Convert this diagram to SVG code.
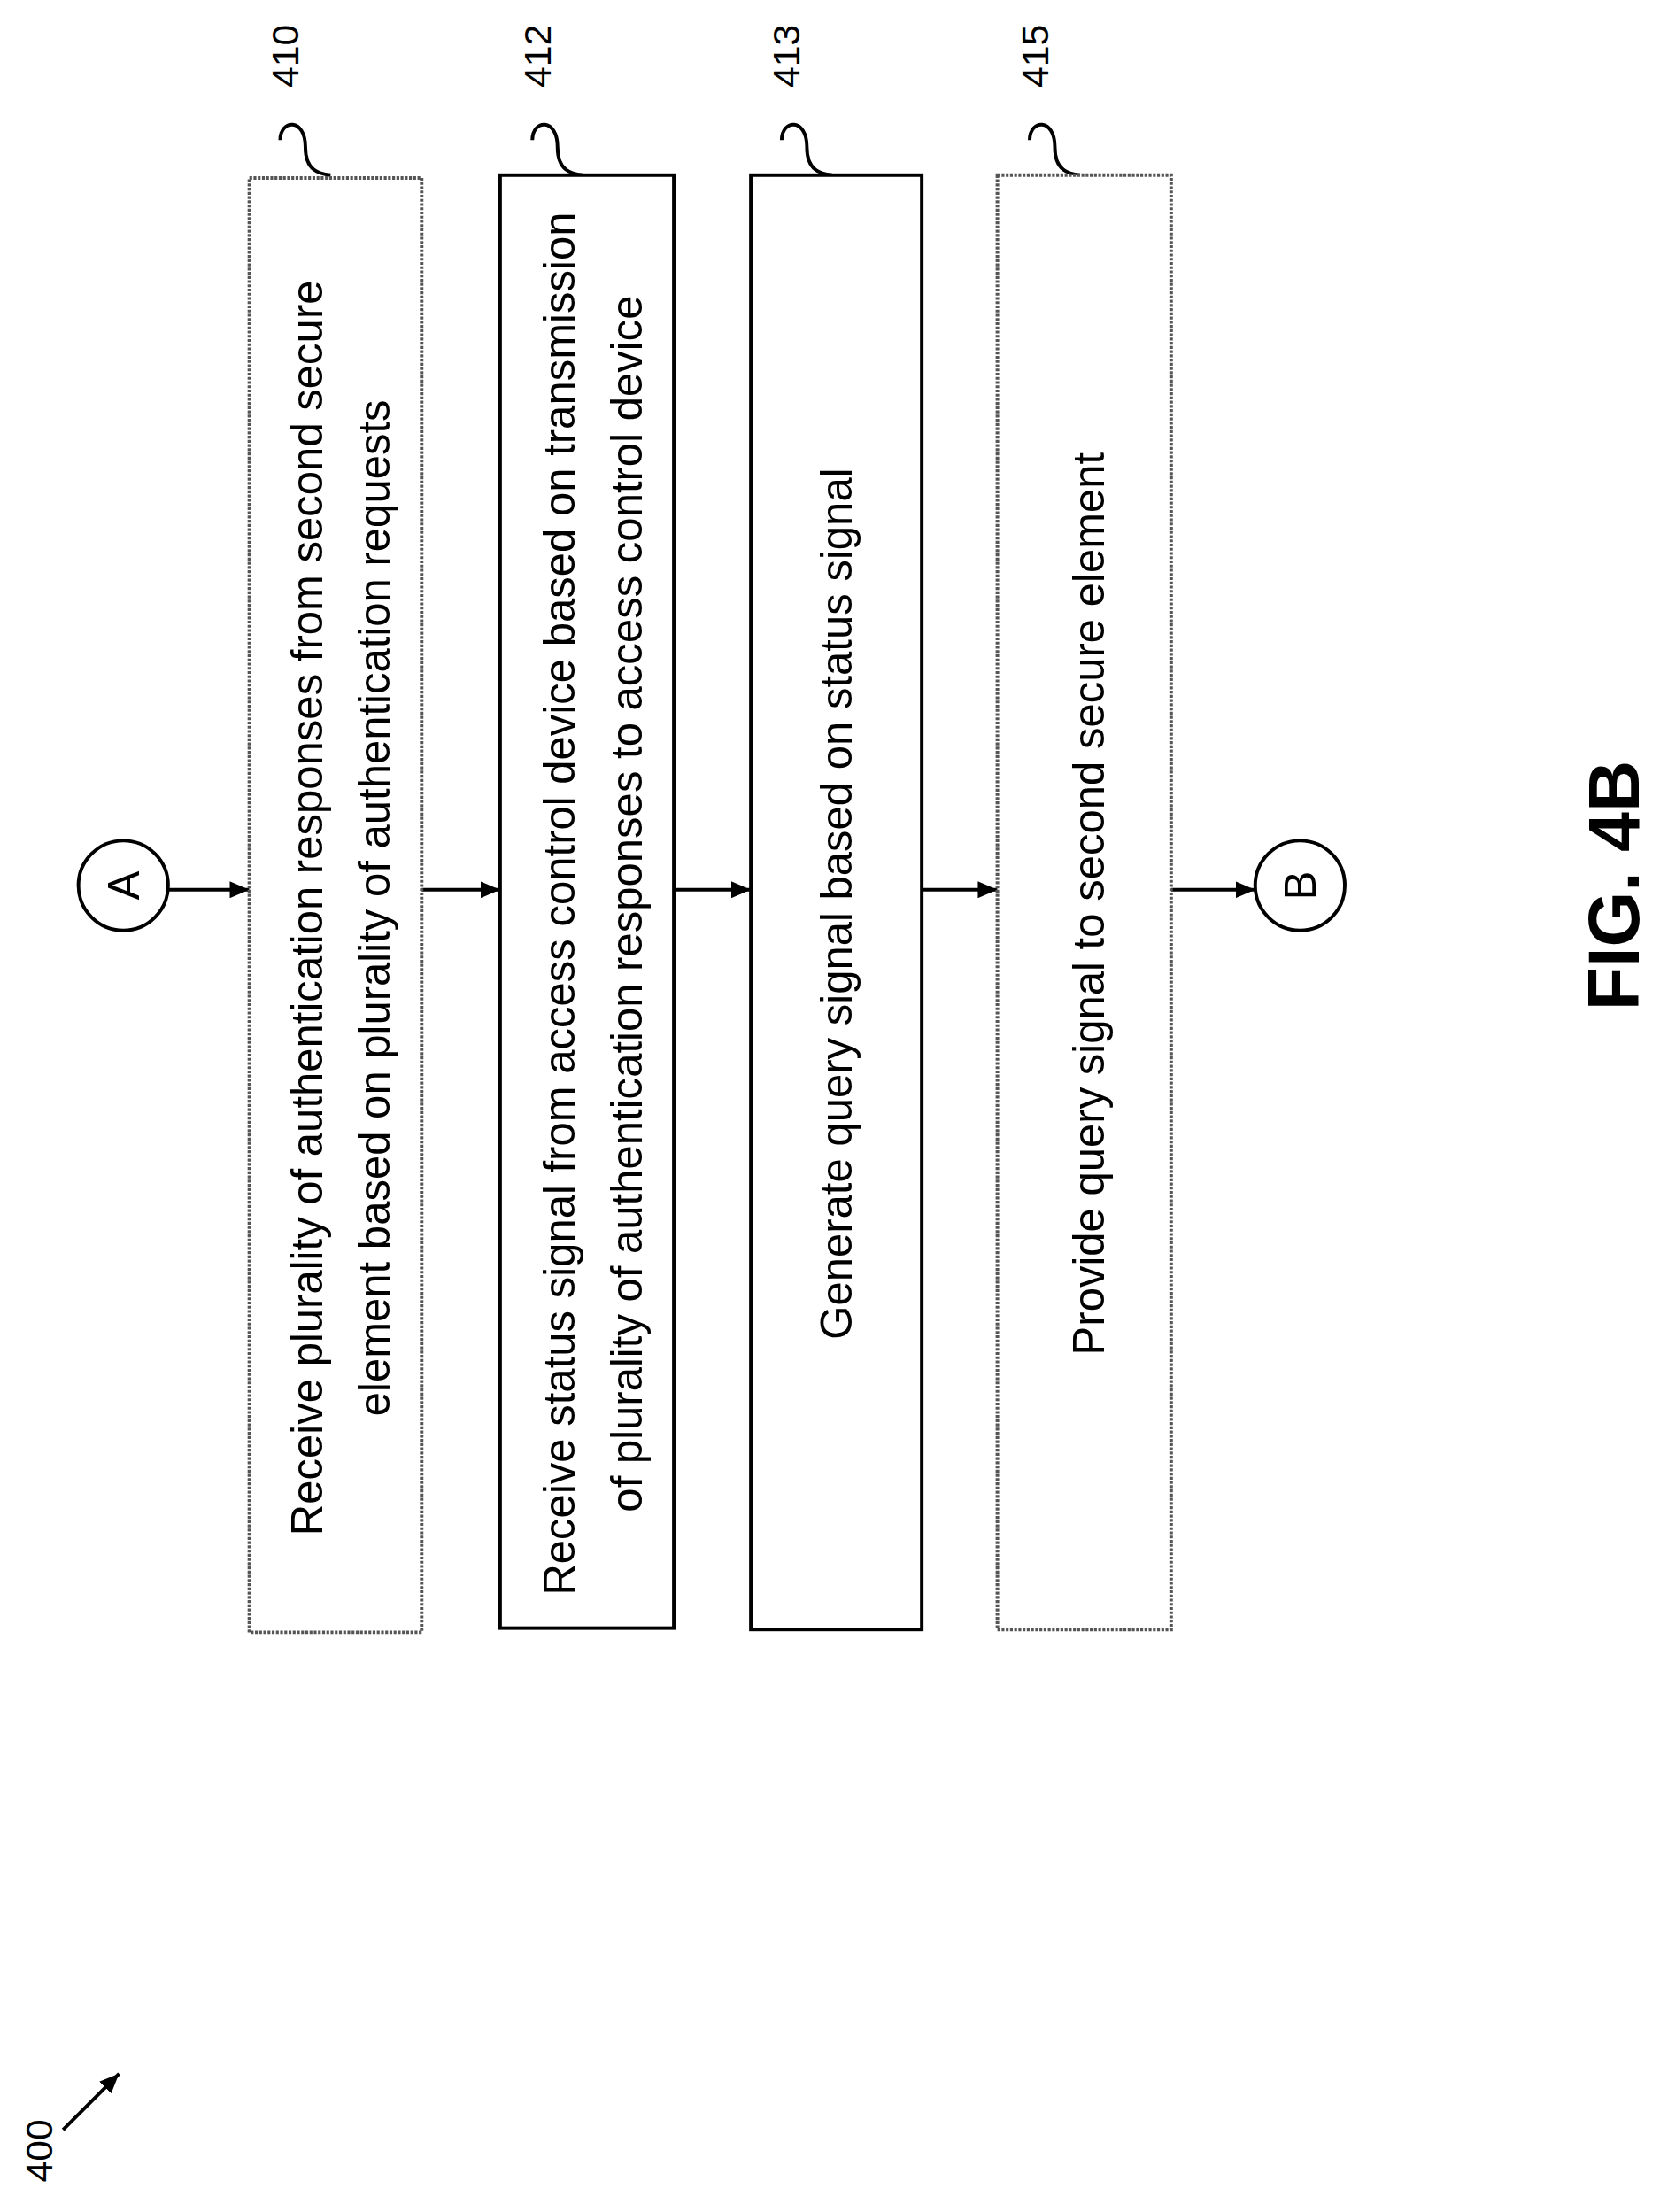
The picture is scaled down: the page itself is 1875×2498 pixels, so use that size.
<svg xmlns="http://www.w3.org/2000/svg" width="1875" height="2498" viewBox="0 0 1875 2498">
<defs>
<style>
.t{font-family:"Liberation Sans",Arial,sans-serif;font-size:31px;fill:#000;text-anchor:middle}
.n{font-family:"Liberation Sans",Arial,sans-serif;font-size:27px;fill:#000;text-anchor:middle}
.box{fill:#fff;stroke:#000;stroke-width:2.5}
.gbox{fill:#fff;stroke:#555;stroke-width:2.5;stroke-dasharray:2 1}
.c{stroke:#000;stroke-width:2.5;fill:none}
</style>
<marker id="ah" markerWidth="14" markerHeight="12" refX="14" refY="6" orient="auto" markerUnits="userSpaceOnUse" viewBox="0 0 14 12"><path d="M0,0 L14,6 L0,12 z" fill="#000"/></marker>
</defs>
<rect width="1875" height="2498" fill="#fff"/>
<g transform="scale(1.5823)">
<g id="connectors">
<line class="c" x1="120" y1="635" x2="178" y2="635" marker-end="url(#ah)"/>
<line class="c" x1="301" y1="635" x2="357" y2="635" marker-end="url(#ah)"/>
<line class="c" x1="481" y1="635" x2="536" y2="635" marker-end="url(#ah)"/>
<line class="c" x1="658" y1="635" x2="712" y2="635" marker-end="url(#ah)"/>
<line class="c" x1="836" y1="635" x2="896" y2="635" marker-end="url(#ah)"/>
<path class="c" d="M200,100 C200,85 218,84 218,105 C218,122 228,124 236,125"/>
<path class="c" d="M380,100 C380,85 398,84 398,105 C398,122 408,124 416,125"/>
<path class="c" d="M558,100 C558,85 576,84 576,105 C576,122 586,124 594,125"/>
<path class="c" d="M735,100 C735,85 753,84 753,105 C753,122 763,124 771,125"/>
<line class="c" x1="45" y1="1520" x2="85" y2="1480" marker-end="url(#ah)"/>
</g>
<g id="A"><circle cx="88" cy="632" r="32" class="box"/><text class="t" transform="translate(99,632) rotate(-90)">A</text></g>
<g id="B"><circle cx="928" cy="632" r="32" class="box"/><text class="t" transform="translate(939,632) rotate(-90)">B</text></g>
<g id="n410"><rect class="gbox" x="178" y="127" width="123" height="1038"/>
<text class="t" transform="translate(230,648) rotate(-90)">Receive plurality of authentication responses from second secure</text>
<text class="t" transform="translate(278,648) rotate(-90)">element based on plurality of authentication requests</text>
<text class="n" transform="translate(213,40) rotate(-90)">410</text></g>
<g id="n412"><rect class="box" x="357" y="125" width="124" height="1037"/>
<text class="t" transform="translate(410,645) rotate(-90)">Receive status signal from access control device based on transmission</text>
<text class="t" transform="translate(458,645) rotate(-90)">of plurality of authentication responses to access control device</text>
<text class="n" transform="translate(393,40) rotate(-90)">412</text></g>
<g id="n413"><rect class="box" x="536" y="125" width="122" height="1038"/>
<text class="t" transform="translate(608,645) rotate(-90)">Generate query signal based on status signal</text>
<text class="n" transform="translate(571,40) rotate(-90)">413</text></g>
<g id="n415"><rect class="gbox" x="712" y="125" width="124" height="1038"/>
<text class="t" transform="translate(788,645) rotate(-90)">Provide query signal to second secure element</text>
<text class="n" transform="translate(748,40) rotate(-90)">415</text></g>
<text class="n" transform="translate(37,1535) rotate(-90)">400</text>
<text transform="translate(1170,632) rotate(-90)" style="font-family:'Liberation Sans',Arial,sans-serif;font-weight:bold;font-size:51px;text-anchor:middle">FIG. 4B</text>
</g>
</svg>
